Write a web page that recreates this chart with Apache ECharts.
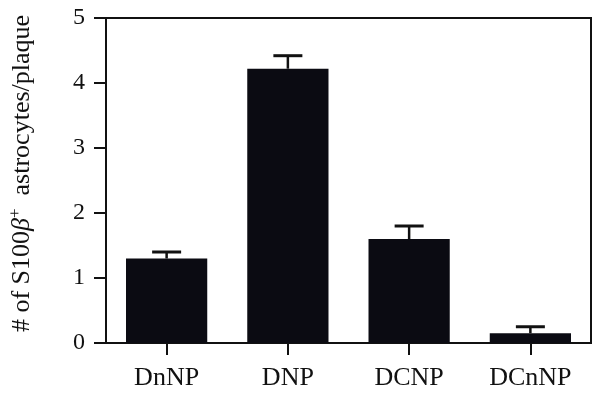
<!DOCTYPE html>
<html><head><meta charset="utf-8">
<script src="https://cdn.jsdelivr.net/npm/echarts@6/dist/echarts.min.js"></script>
<style>html,body{margin:0;padding:0;background:#fff}#c{width:603px;height:395px}</style>
</head><body><div id="c"></div>
<script>
var categories = ['DnNP', 'DNP', 'DCNP', 'DCnNP'];
var means = [1.3, 4.22, 1.6, 0.15];
var errorTops = [1.4, 4.42, 1.8, 0.25];
var yTicks = [0, 1, 2, 3, 4, 5];

var chart = echarts.init(document.getElementById('c'));
var font = 'Liberation Serif, Times New Roman, serif';
chart.setOption({
  animation: false,
  grid: { left: 106, right: 12, top: 18, bottom: 52, show: true, borderColor: '#111', borderWidth: 2, backgroundColor: 'transparent', outerBoundsMode: 'none', containLabel: false },
  xAxis: {
    type: 'category', data: categories,
    axisLine: { show: true, lineStyle: { color: '#111', width: 2 } },
    axisTick: { show: true, inside: false, alignWithLabel: true, length: 12, lineStyle: { color: '#111', width: 2 } },
    axisLabel: { color: '#111', fontFamily: font, fontSize: 26, margin: 22 }
  },
  yAxis: {
    type: 'value', min: 0, max: 5, interval: 1,
    splitLine: { show: false },
    axisLine: { show: true, lineStyle: { color: '#111', width: 2 } },
    axisTick: { show: true, inside: false, length: 12, lineStyle: { color: '#111', width: 2 } },
    axisLabel: { color: '#111', fontFamily: font, fontSize: 24, margin: 21, formatter: function (v) { return yTicks.indexOf(v) >= 0 ? String(v) : ''; } },
    name: '{a|# of S100}{b|β}{s|+}{a|  astrocytes/plaque}',
    nameLocation: 'middle', nameGap: 68, nameRotate: 90,
    nameTextStyle: {
      padding: [0, 0, 0, 14],
      rich: {
        a: { fontFamily: font, fontSize: 26, color: '#111' },
        b: { fontFamily: font, fontSize: 26, fontStyle: 'italic', color: '#111' },
        s: { fontFamily: font, fontSize: 17, color: '#111', verticalAlign: 'bottom', padding: [0, 0, 14, 0] }
      }
    }
  },
  series: [
    {
      type: 'bar', data: means, barWidth: '67%',
      itemStyle: { color: '#0b0b12' }
    },
    {
      type: 'custom',
      data: categories.map(function (c, i) { return [i, means[i], errorTops[i]]; }),
      renderItem: function (params, api) {
        var base = api.coord([api.value(0), api.value(1)]);
        var top = api.coord([api.value(0), api.value(2)]);
        var hw = 14.5;
        return {
          type: 'group', children: [
            { type: 'line', shape: { x1: base[0], y1: base[1], x2: top[0], y2: top[1] }, style: { stroke: '#111', lineWidth: 2.5 } },
            { type: 'line', shape: { x1: top[0] - hw, y1: top[1], x2: top[0] + hw, y2: top[1] }, style: { stroke: '#111', lineWidth: 3 } }
          ]
        };
      },
      z: 3
    }
  ]
});
</script></body></html>
